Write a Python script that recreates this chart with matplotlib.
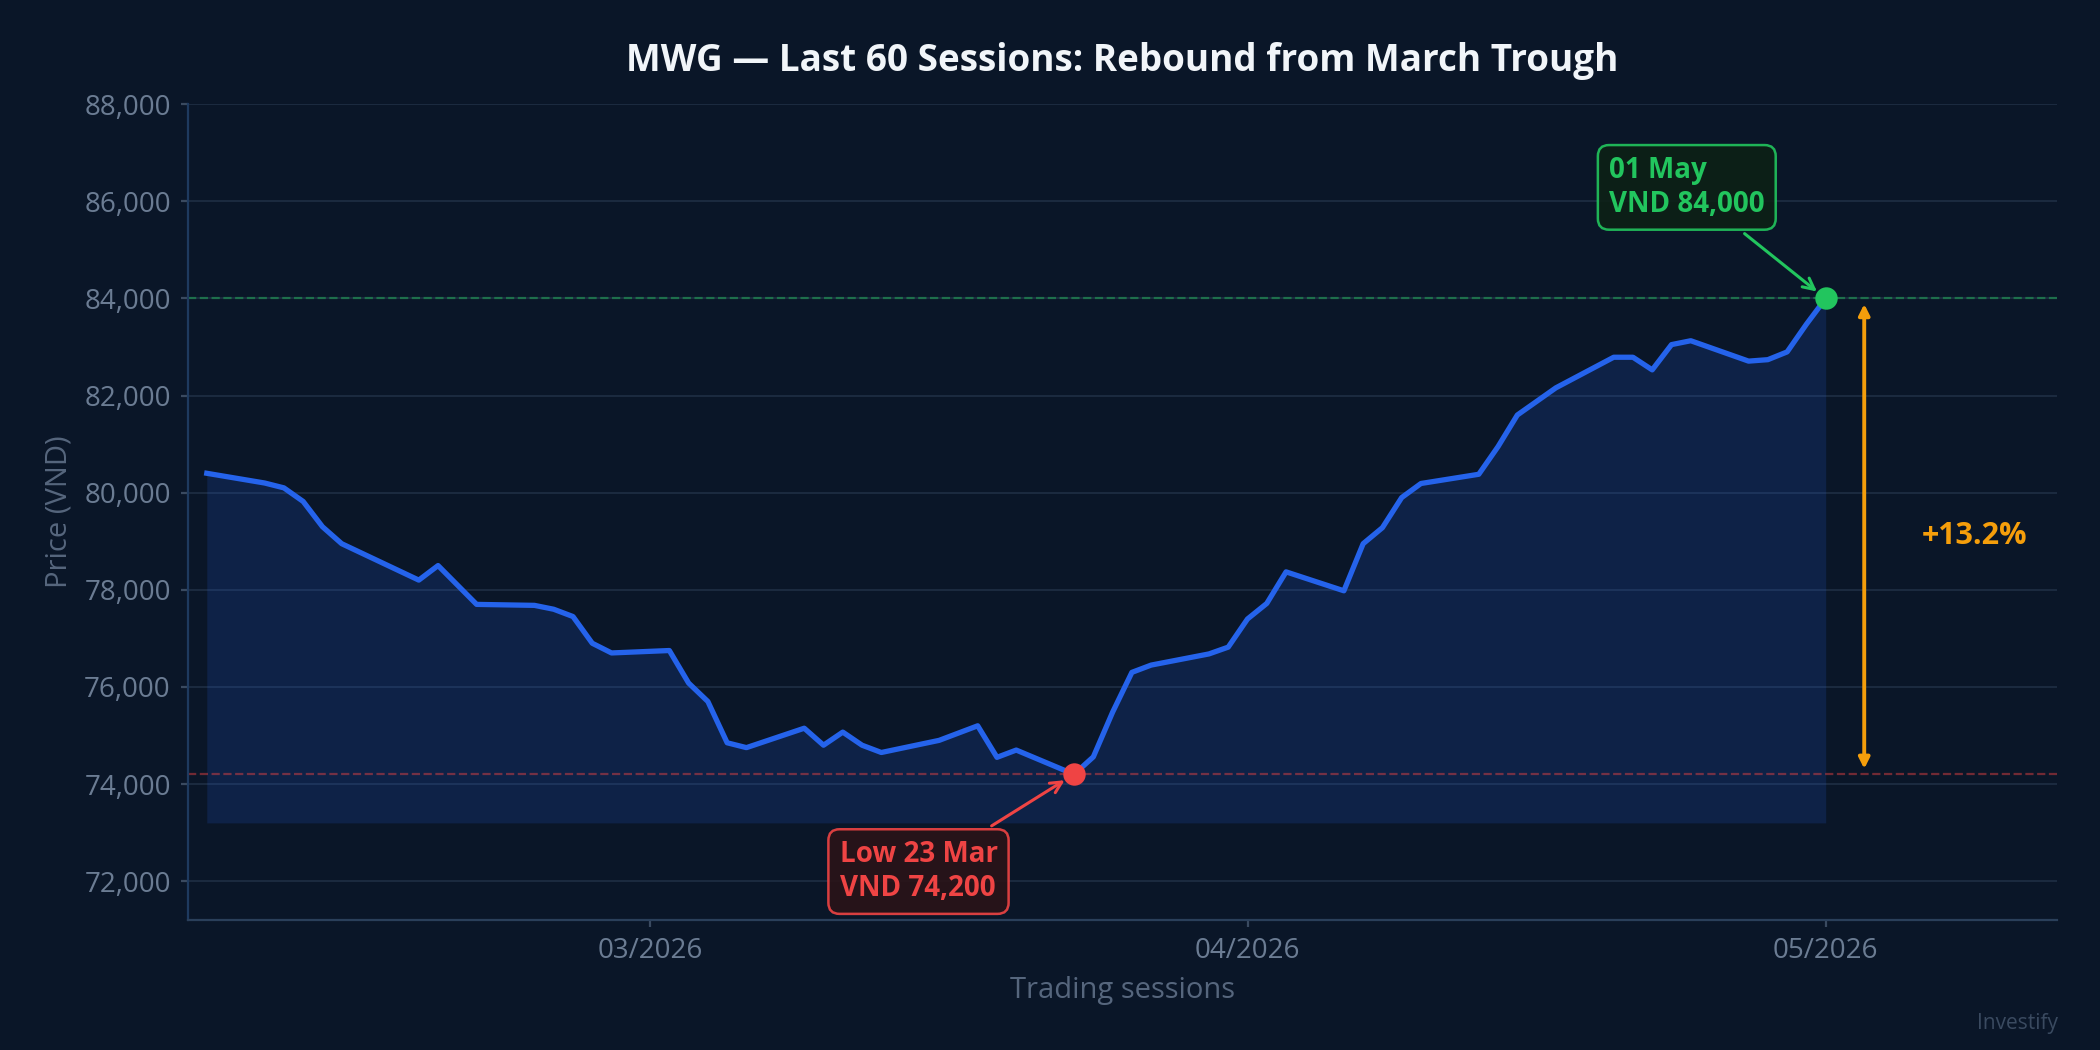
import pandas as pd
import matplotlib
matplotlib.use("Agg")
import matplotlib.pyplot as plt
import matplotlib.dates as mdates
from matplotlib import font_manager as fm
from matplotlib.ticker import FuncFormatter, MultipleLocator

# use the first sans family that actually ships a bold face
bold_fams = {f.name for f in fm.fontManager.ttflist if f.weight in (600, 700, 'bold', 'semibold')}
fam = next((f for f in ['Noto Sans', 'Open Sans', 'Lato', 'Roboto'] if f in bold_fams), 'DejaVu Sans')
plt.rcParams['font.family'] = [fam, 'DejaVu Sans']

BG = '#0a1628'
BLUE = '#2563eb'
GREEN = '#22c55e'
RED = '#ef4444'
ORANGE = '#f59e0b'
MUTED = '#6b7c93'

# trading calendar (Feb 16 closed) and closing prices
sessions = pd.bdate_range("2026-02-06", "2026-05-01").drop(pd.Timestamp("2026-02-16"))
close = [80400, 80200, 80100, 79820, 79300, 78950, 78200, 78500, 78100, 77700,
         77680, 77600, 77450, 76900, 76700, 76750, 76080, 75700, 74850, 74750,
         75150, 74800, 75070, 74800, 74650, 74900, 75050, 75200, 74550, 74700,
         74200, 74560, 75480, 76300, 76450, 76680, 76820, 77400, 77720, 78370,
         77980, 78950, 79280, 79900, 80190, 80380, 80950, 81600, 81880, 82160,
         82790, 82790, 82530, 83050, 83130, 82710, 82740, 82900, 83470, 84000]

ticker = "MWG"
s = pd.Series(close, index=sessions)
low_d, low_v = s.idxmin(), s.min()
last_d, last_v = s.index[-1], s.iloc[-1]
pct = (last_v / low_v - 1) * 100

fig = plt.figure(figsize=(10.5, 5.25), dpi=200, facecolor=BG)
ax = fig.add_axes([0.0893, 0.1238, 0.8902, 0.7769], facecolor=BG)

ax.fill_between(s.index, s.values, low_v - 1000, color=BLUE, alpha=0.16, lw=0)
ax.plot(s.index, s.values, color=BLUE, lw=1.9, zorder=3)

ax.axhline(last_v, color=GREEN, ls='--', lw=0.8, alpha=0.45, zorder=2)
ax.axhline(low_v, color=RED, ls='--', lw=0.8, alpha=0.45, zorder=2)

ax.scatter([low_d], [low_v], s=50, color=RED, zorder=5)
ax.scatter([last_d], [last_v], s=50, color=GREEN, zorder=5)

ax.annotate(f"Low {low_d:%d %b}\nVND {low_v:,.0f}", xy=(low_d, low_v),
            xytext=(-56, -35), textcoords='offset points', ha='center', va='center',
            multialignment='left', color=RED, fontsize=10, fontweight='bold',
            bbox=dict(boxstyle='round,pad=0.4', fc='#2a1318', ec=RED, lw=0.9, alpha=0.9),
            arrowprops=dict(arrowstyle='->', color=RED, lw=1.1, shrinkB=4), zorder=6)
ax.annotate(f"{last_d:%d %b}\nVND {last_v:,.0f}", xy=(last_d, last_v),
            xytext=(-50, 40), textcoords='offset points', ha='center', va='center',
            multialignment='left', color=GREEN, fontsize=10, fontweight='bold',
            bbox=dict(boxstyle='round,pad=0.4', fc='#0d2116', ec=GREEN, lw=0.9, alpha=0.9),
            arrowprops=dict(arrowstyle='->', color=GREEN, lw=1.1, shrinkB=4), zorder=6)

arrow_x = last_d + pd.Timedelta(days=2)
ax.annotate('', xy=(arrow_x, low_v), xytext=(arrow_x, last_v),
            arrowprops=dict(arrowstyle='<|-|>', color=ORANGE, lw=1.4,
                            mutation_scale=8))
ax.text(last_d + pd.Timedelta(days=5), (low_v + last_v) / 2, f"+{pct:.1f}%",
        color=ORANGE, fontsize=11, fontweight='bold', ha='left', va='center')

ax.set_xlim(s.index[0] - pd.Timedelta(days=1), last_d + pd.Timedelta(days=12))
ax.set_ylim(low_v - 3000, last_v + 4000)
ax.yaxis.set_major_locator(MultipleLocator(2000))
ax.yaxis.set_major_formatter(FuncFormatter(lambda v, p: f"{v:,.0f}"))
ax.xaxis.set_major_locator(mdates.MonthLocator())
ax.xaxis.set_major_formatter(mdates.DateFormatter('%m/%Y'))

ax.grid(axis='y', color='#1c2b40', lw=0.7)
ax.set_axisbelow(True)
for side in ['top', 'right']:
    ax.spines[side].set_visible(False)
ax.spines['left'].set_color('#1e3a5f')
ax.spines['bottom'].set_color('#2a3f5a')
ax.tick_params(colors=MUTED, labelsize=10, length=2.5, width=0.8)
ax.tick_params(axis='both', color='#3a4a60')

ax.set_title(f"{ticker} \u2014 Last {len(s)} Sessions: Rebound from March Trough",
             color='#f1f5f9', fontsize=13.3, fontweight='bold', pad=12)
ax.set_ylabel("Price (VND)", color='#56667d', fontsize=10.5)
ax.set_xlabel("Trading sessions", color='#56667d', fontsize=10.5)

fig.text(0.98, 0.015, "Investify", color='#3a4a60', fontsize=7.5, ha='right', va='bottom')

fig.savefig("out.png", dpi=200, facecolor=BG)
